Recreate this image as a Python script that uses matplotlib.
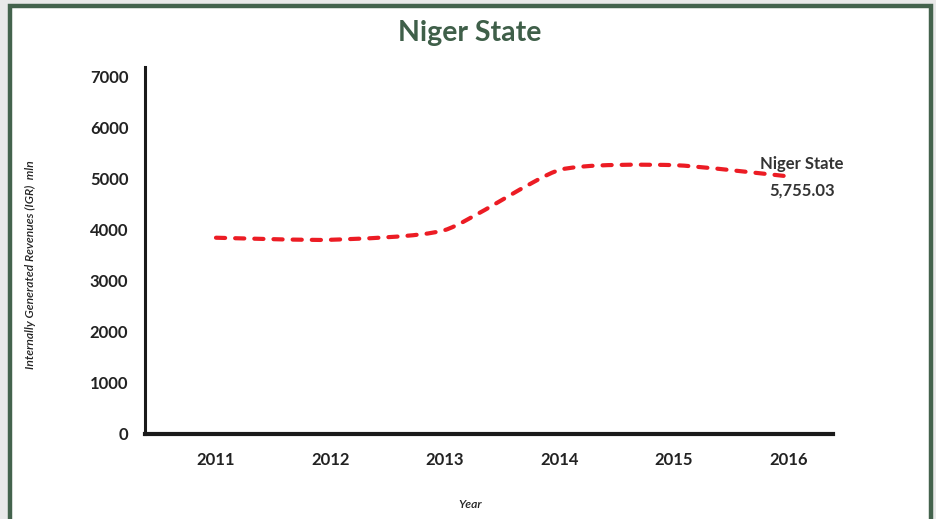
import matplotlib
matplotlib.use("Agg")
import matplotlib.pyplot as plt
from matplotlib.path import Path
from matplotlib.patches import PathPatch, Rectangle
import numpy as np

# data
years = ["2011", "2012", "2013", "2014", "2015", "2016"]
igr = [3840, 3800, 3990, 5165, 5260, 5040]
end_label = "5,755.03"
state = "Niger State"

plt.rcParams["font.family"] = ["Lato", "DejaVu Sans"]

fig = plt.figure(figsize=(9.36, 5.19), dpi=100)
fig.patch.set_facecolor("#e9e9e9")

# green frame around the card
fig.patches.append(Rectangle((9.5 / 936, -0.05), 921 / 936, 1.05 - 6 / 519,
                             transform=fig.transFigure, facecolor="white",
                             edgecolor="#44634d", linewidth=3.2, zorder=-5))

ax = fig.add_axes([145 / 936, 1 - 434 / 519, (833 - 145) / 936, (434 - 67) / 519])
ax.set_facecolor("none")
ax.set_zorder(2)

x = np.arange(len(years))
y = np.array(igr, dtype=float)

# lightly smoothed curve through the points (cubic beziers, low tension)
pts = np.column_stack([x, y])
k = 10
verts = [pts[0]]
codes = [Path.MOVETO]
for i in range(len(pts) - 1):
    p0 = pts[i - 1] if i > 0 else pts[i]
    p1 = pts[i]
    p2 = pts[i + 1]
    p3 = pts[i + 2] if i + 2 < len(pts) else pts[i + 1]
    verts += [p1 + (p2 - p0) / k, p2 - (p3 - p1) / k, p2]
    codes += [Path.CURVE4] * 3
curve = PathPatch(Path(verts, codes), facecolor="none", edgecolor="#ec1c24",
                  linewidth=3.0, linestyle=(0, (2.2, 2.4)), capstyle="round")
ax.add_patch(curve)

ax.set_xlim(-0.62, 5.39)
ax.set_ylim(0, 7180)
ax.set_xticks(x)
ax.set_xticklabels(years)
ax.set_yticks(range(0, 7001, 1000))
ax.tick_params(length=0, labelsize=12, colors="#222222")
ax.tick_params(axis="x", pad=13)
ax.tick_params(axis="y", pad=12)
for lab in ax.get_xticklabels() + ax.get_yticklabels():
    lab.set_fontweight("bold")

for s in ["top", "right"]:
    ax.spines[s].set_visible(False)
ax.spines["left"].set_linewidth(2.2)
ax.spines["bottom"].set_linewidth(3.0)
ax.spines["left"].set_color("#1a1a1a")
ax.spines["bottom"].set_color("#1a1a1a")

ax.text(x[-1] + 0.12, y[-1] + 250, state, ha="center", va="center",
        fontsize=12, fontweight="bold", color="#333333")
ax.text(x[-1] + 0.12, y[-1] - 270, end_label, ha="center", va="center",
        fontsize=12, fontweight="bold", color="#333333")

fig.text(470 / 936, 1 - 33 / 519, "Niger State", ha="center", va="center",
         fontsize=20.5, fontweight="bold", color="#3f5f49")
fig.text(30 / 936, 1 - 265 / 519, "Internally Generated Revenues (IGR)  mln",
         rotation=90, ha="center", va="center", fontsize=8.7, style="italic",
         fontweight="semibold", color="#222222")
fig.text(470 / 936, 1 - 505 / 519, "Year", ha="center", va="center",
         fontsize=8.7, style="italic", fontweight="semibold", color="#222222")

fig.savefig("out.png", dpi=100, facecolor=fig.get_facecolor())
